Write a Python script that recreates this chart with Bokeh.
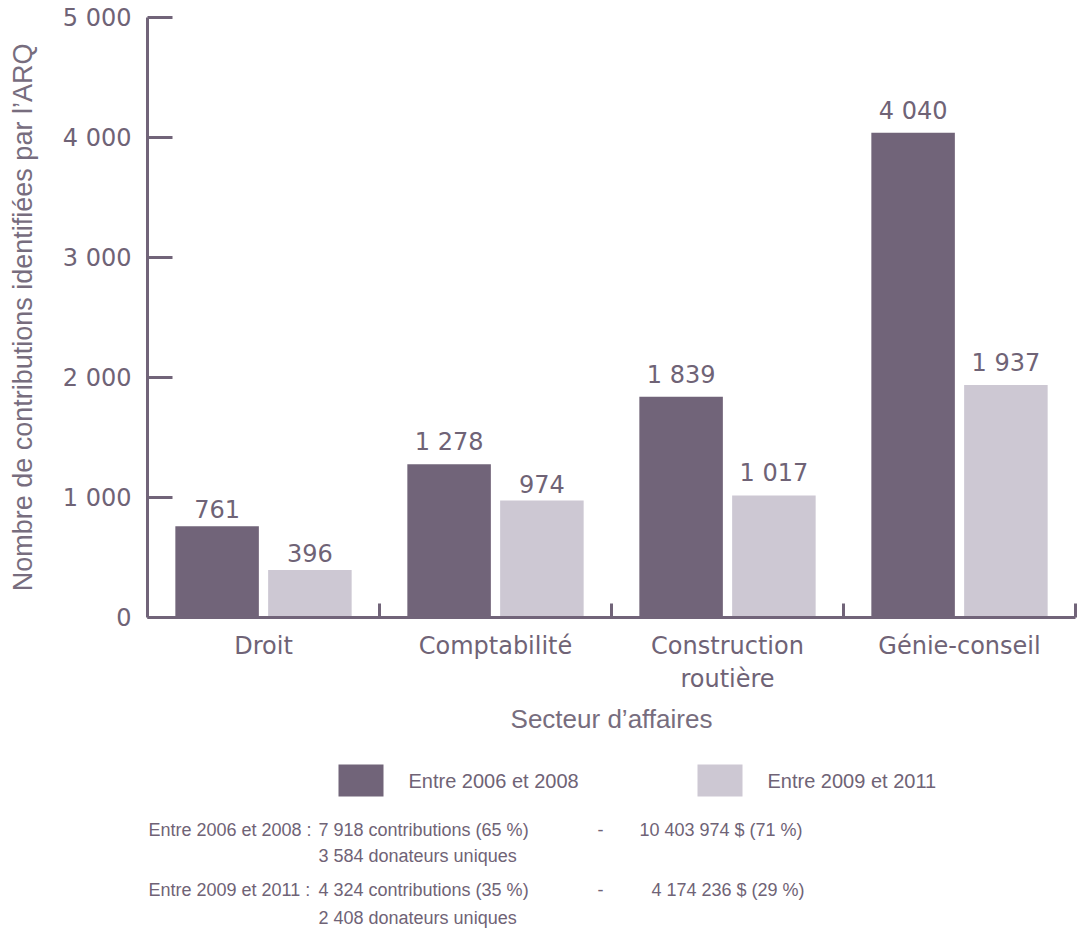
from bokeh.plotting import figure
from bokeh.layouts import column
from bokeh.models import Range1d, FixedTicker, ColumnDataSource
from bokeh.core.properties import value
from bokeh.embed import file_html
from bokeh.resources import INLINE

# ---------------- data ----------------
categories = ["Droit", "Comptabilité", "Construction\nroutière", "Génie-conseil"]
series_names = ["Entre 2006 et 2008", "Entre 2009 et 2011"]
v_2006_2008 = [761, 1278, 1839, 4040]
v_2009_2011 = [396, 974, 1017, 1937]
y_ticks = [0, 1000, 2000, 3000, 4000, 5000]
y_tick_labels = ["0", "1 000", "2 000", "3 000", "4 000", "5 000"]
footnote_period = ["Entre 2006 et 2008 :", "Entre 2009 et 2011 :"]
footnote_contrib = ["7 918 contributions (65 %)", "4 324 contributions (35 %)"]
footnote_amount = ["10 403 974 $ (71 %)", "4 174 236 $ (29 %)"]
footnote_donors = ["3 584 donateurs uniques", "2 408 donateurs uniques"]
y_title = "Nombre de contributions identifiées par l’ARQ"
x_title = "Secteur d’affaires"

DARK = "#716479"
LIGHT = "#cdc8d3"
TXT = "#6f6376"
TITLE_C = "#776d7e"
MAIN_FONT = "DejaVu Sans"
COND_FONT = "'Liberation Sans Narrow', 'Liberation Sans', sans-serif"
PLAIN_FONT = "Liberation Sans"
NOTE_SIZE = "18px"
LEG_SIZE = "20px"

W, H = 1081, 935
TOP_H = 750
FL, FR, FT, FB = 147, 1075, 17, 617  # frame edges in canvas px

def fmt(v):
    return f"{v:,}".replace(",", " ")

n = len(categories)
centers = [i + 0.5 for i in range(n)]
off = 0.2
src_a = ColumnDataSource(dict(x=[c - off for c in centers], top=v_2006_2008,
                              lab=[fmt(v) for v in v_2006_2008]))
src_b = ColumnDataSource(dict(x=[c + off for c in centers], top=v_2009_2011,
                              lab=[fmt(v) for v in v_2009_2011]))

p = figure(width=W, height=TOP_H, x_range=Range1d(0, n), y_range=Range1d(0, 5000),
           output_backend="svg", toolbar_location=None,
           min_border_left=FL, min_border_right=W - FR, min_border_top=FT,
           min_border_bottom=TOP_H - FB)
p.outline_line_color = None
p.xgrid.visible = False
p.ygrid.visible = False

ra = p.vbar(x="x", top="top", width=0.36, bottom=0, source=src_a, color=DARK, line_color=None)
rb = p.vbar(x="x", top="top", width=0.36, bottom=0, source=src_b, color=LIGHT, line_color=None)

for s in (src_a, src_b):
    p.text(x="x", y="top", text="lab", source=s, text_align="center", text_baseline="bottom",
           y_offset=-8, text_font=value(MAIN_FONT), text_font_size="24px", text_color=TXT)

# y axis
ya = p.yaxis[0]
ya.ticker = FixedTicker(ticks=y_ticks)
ya.major_label_overrides = {t: l for t, l in zip(y_ticks, y_tick_labels)}
ya.major_tick_in = 25
ya.major_tick_out = 0
ya.minor_tick_in = 0
ya.minor_tick_out = 0
ya.axis_line_width = 3
ya.major_tick_line_width = 3
ya.axis_line_color = DARK
ya.major_tick_line_color = DARK
ya.major_label_text_font = MAIN_FONT
ya.major_label_text_font_size = "24px"
ya.major_label_text_color = TXT
ya.major_label_standoff = 16
ya.axis_label = y_title
ya.axis_label_text_font = PLAIN_FONT
ya.axis_label_text_font_size = "27px"
ya.axis_label_text_font_style = "normal"
ya.axis_label_text_color = TITLE_C
ya.axis_label_standoff = 22

# x axis
xa = p.xaxis[0]
xa.ticker = FixedTicker(ticks=centers, minor_ticks=[1, 2, 3, 4])
xa.major_label_overrides = {c: l for c, l in zip(centers, categories)}
xa.major_tick_in = 0
xa.major_tick_out = 0
xa.minor_tick_in = 14
xa.minor_tick_out = 0
xa.minor_tick_line_width = 3
xa.minor_tick_line_color = DARK
xa.axis_line_width = 3
xa.axis_line_color = DARK
xa.major_label_text_font = MAIN_FONT
xa.major_label_text_font_size = "24px"
xa.major_label_text_color = TXT
xa.major_label_standoff = 14
xa.axis_label = x_title
xa.axis_label_text_font = PLAIN_FONT
xa.axis_label_text_font_size = "26px"
xa.axis_label_text_font_style = "normal"
xa.axis_label_text_color = TITLE_C
xa.axis_label_standoff = 8

# ---------------- legend + footnote panel (pixel coordinates) ----------------
# the column layout aligns this panel's frame with the chart frame (FL..FR)
BOT_H = H - TOP_H
q = figure(width=W, height=BOT_H, x_range=Range1d(FL, FR), y_range=Range1d(H, TOP_H),
           output_backend="svg", toolbar_location=None, x_axis_type=None, y_axis_type=None,
           min_border_left=FL, min_border_right=W - FR, min_border_top=0,
           min_border_bottom=0)
q.outline_line_color = None
q.xgrid.visible = False
q.ygrid.visible = False

legend_colors = [DARK, LIGHT]
leg_sq_left = [338, 697]
q.quad(left=leg_sq_left, right=[x + 45 for x in leg_sq_left], top=[764, 764], bottom=[796, 796],
       color=legend_colors, line_color=None)
q.text(x=[x + 70 for x in leg_sq_left], y=[780, 780], text=series_names,
       text_baseline="middle", text_font=value(COND_FONT), text_font_size=LEG_SIZE,
       text_color=TXT)

row1 = [829, 889]
row2 = [855, 917]
q.text(x=[148, 148], y=row1, text=footnote_period, text_baseline="middle",
       text_font=value(COND_FONT), text_font_size=NOTE_SIZE, text_color=TXT)
q.text(x=[318, 318], y=row1, text=footnote_contrib, text_baseline="middle",
       text_font=value(COND_FONT), text_font_size=NOTE_SIZE, text_color=TXT)
q.text(x=[597, 597], y=row1, text=["-", "-"], text_baseline="middle",
       text_font=value(COND_FONT), text_font_size=NOTE_SIZE, text_color=TXT)
q.text(x=[802, 804], y=row1, text=footnote_amount, text_baseline="middle", text_align="right",
       text_font=value(COND_FONT), text_font_size=NOTE_SIZE, text_color=TXT)
q.text(x=[318, 318], y=row2, text=footnote_donors, text_baseline="middle",
       text_font=value(COND_FONT), text_font_size=NOTE_SIZE, text_color=TXT)

layout = column(p, q, spacing=0)
open("out.html", "w").write(file_html(layout, INLINE))
